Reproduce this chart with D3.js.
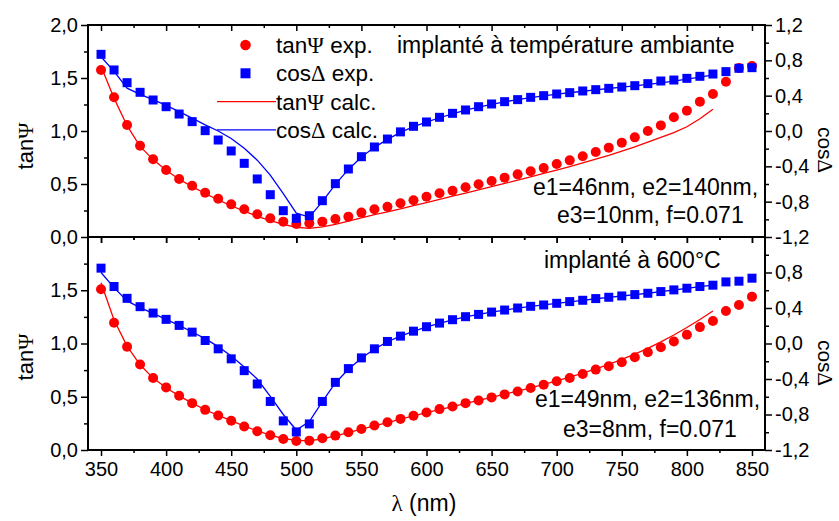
<!DOCTYPE html>
<html><head><meta charset="utf-8">
<script src="https://cdn.jsdelivr.net/npm/d3@7"></script>
<style>
html,body{margin:0;padding:0;background:#fff;}
svg{display:block;font-family:"Liberation Sans",Arial,sans-serif;}
</style></head>
<body>
<svg id="chart" width="839" height="521"></svg>
<script>
// ---- data ----
const lambdaExp = [350,360,370,380,390,400,410,420,430,440,450,460,470,480,490,500,510,520,530,540,550,560,570,580,590,600,610,620,630,640,650,660,670,680,690,700,710,720,730,740,750,760,770,780,790,800,810,820,830,840,850];
const lambdaCalc = [350,360,370,380,390,400,410,420,430,440,450,460,470,480,490,500,510,520,530,540,550,560,570,580,590,600,610,620,630,640,650,660,670,680,690,700,710,720,730,740,750,760,770,780,790,800,810,820];

const tanPsiExpTop = [1.575,1.318,1.057,0.861,0.733,0.632,0.547,0.484,0.418,0.361,0.308,0.261,0.214,0.176,0.145,0.123,0.129,0.145,0.170,0.192,0.230,0.261,0.286,0.318,0.346,0.380,0.412,0.437,0.469,0.497,0.528,0.560,0.591,0.620,0.651,0.689,0.723,0.761,0.802,0.843,0.890,0.940,1.000,1.053,1.129,1.192,1.277,1.349,1.465,1.594,1.613];
const cosDeltaExpTop = [0.868,0.691,0.547,0.438,0.351,0.275,0.192,0.106,0.004,-0.102,-0.226,-0.366,-0.543,-0.721,-0.902,-0.989,-0.959,-0.789,-0.596,-0.430,-0.291,-0.181,-0.091,-0.010,0.053,0.102,0.155,0.200,0.238,0.275,0.306,0.332,0.355,0.381,0.400,0.419,0.434,0.453,0.468,0.483,0.498,0.513,0.536,0.566,0.577,0.596,0.619,0.645,0.672,0.710,0.717];
const tanPsiCalcTop = [1.61,1.31,1.05,0.855,0.73,0.63,0.545,0.475,0.41,0.35,0.295,0.245,0.195,0.155,0.118,0.092,0.082,0.095,0.12,0.15,0.18,0.21,0.237,0.265,0.295,0.325,0.355,0.385,0.415,0.445,0.475,0.505,0.537,0.568,0.60,0.632,0.665,0.70,0.735,0.77,0.81,0.85,0.895,0.94,0.985,1.04,1.115,1.205];
const cosDeltaCalcTop = [0.84,0.675,0.485,0.415,0.355,0.29,0.22,0.145,0.07,0.0,-0.085,-0.195,-0.33,-0.50,-0.71,-0.93,-0.975,-0.80,-0.605,-0.435,-0.295,-0.185,-0.095,-0.015,0.05,0.10,0.15,0.195,0.235,0.27,0.302,0.33,0.355,0.378,0.398,0.417,0.433,0.45,0.466,0.481,0.496,0.511,0.527,0.545,0.565,0.587,0.61,0.635];

const tanPsiExpBot = [1.509,1.195,0.969,0.802,0.676,0.588,0.509,0.440,0.377,0.324,0.274,0.220,0.176,0.138,0.104,0.085,0.088,0.110,0.135,0.167,0.198,0.230,0.261,0.292,0.322,0.352,0.384,0.409,0.440,0.465,0.494,0.522,0.550,0.582,0.613,0.645,0.676,0.714,0.755,0.786,0.824,0.871,0.918,0.965,1.019,1.082,1.154,1.211,1.305,1.362,1.440];
const cosDeltaExpBot = [0.849,0.642,0.509,0.415,0.343,0.272,0.204,0.128,0.034,-0.060,-0.173,-0.306,-0.456,-0.653,-0.872,-0.996,-0.906,-0.653,-0.438,-0.283,-0.162,-0.060,0.023,0.083,0.139,0.189,0.230,0.268,0.302,0.328,0.354,0.377,0.400,0.419,0.434,0.453,0.472,0.487,0.506,0.521,0.536,0.551,0.566,0.585,0.604,0.623,0.642,0.657,0.694,0.702,0.736];
const tanPsiCalcBot = [1.57,1.22,0.975,0.80,0.675,0.585,0.508,0.44,0.378,0.325,0.275,0.225,0.18,0.14,0.108,0.09,0.087,0.105,0.132,0.163,0.195,0.227,0.258,0.29,0.32,0.35,0.38,0.408,0.438,0.466,0.495,0.524,0.553,0.584,0.617,0.65,0.685,0.722,0.762,0.805,0.85,0.90,0.955,1.015,1.08,1.15,1.225,1.305];
const cosDeltaCalcBot = [0.80,0.63,0.48,0.405,0.34,0.272,0.204,0.13,0.055,-0.035,-0.14,-0.265,-0.40,-0.595,-0.80,-0.975,-0.88,-0.655,-0.445,-0.29,-0.165,-0.063,0.02,0.082,0.137,0.187,0.228,0.266,0.30,0.327,0.353,0.376,0.398,0.418,0.435,0.452,0.47,0.486,0.504,0.52,0.535,0.55,0.566,0.584,0.603,0.622,0.641,0.658];

const xTicks = [350,400,450,500,550,600,650,700,750,800,850];
const xMinor = [375,425,475,525,575,625,675,725,775,825];
const leftTicksTop = [0,0.5,1.0,1.5,2.0];
const leftTicksBot = [0,0.5,1.0,1.5];
const leftMinor = [0.25,0.75,1.25,1.75];
const rightTicksTop = [-1.2,-0.8,-0.4,0.0,0.4,0.8,1.2];
const rightTicksBot = [-1.2,-0.8,-0.4,0.0,0.4,0.8];
const rightMinor = [-1.0,-0.6,-0.2,0.2,0.6,1.0];
const notesTop = {title:"implanté à température ambiante", p1:"e1=46nm, e2=140nm,", p2:"e3=10nm, f=0.071"};
const notesBot = {title:"implanté à 600°C", p1:"e1=49nm, e2=136nm,", p2:"e3=8nm, f=0.071"};

// ---- layout ----
const RED = "#ff0000", BLUE = "#0000ff";
const L = 88, R = 765;
const FS_TICK = 20, FS_TEXT = 23;
const svg = d3.select("#chart");
const x = d3.scaleLinear().domain([340,860]).range([L,R]);
const fmt = v => d3.format(".1f")(v).replace(".", ",").replace("−","-");

const panels = [
  {y0:25, y1:237, tanE:tanPsiExpTop, cosE:cosDeltaExpTop, tanC:tanPsiCalcTop, cosC:cosDeltaCalcTop,
   lt:leftTicksTop, rt:rightTicksTop, notes:notesTop,
   titleY:53, noteX:397, p1:{x:533,y:195}, p2:{x:557,y:223}, tanTitleY:146, cosTitleY:150},
  {y0:237, y1:450, tanE:tanPsiExpBot, cosE:cosDeltaExpBot, tanC:tanPsiCalcBot, cosC:cosDeltaCalcBot,
   lt:leftTicksBot, rt:rightTicksBot, notes:notesBot,
   titleY:268, noteX:544, p1:{x:535,y:407}, p2:{x:563,y:437}, tanTitleY:357, cosTitleY:363}
];

panels.forEach((p, i) => {
  const yL = d3.scaleLinear().domain([0,2]).range([p.y1,p.y0]);
  const yR = d3.scaleLinear().domain([-1.2,1.2]).range([p.y1,p.y0]);
  const g = svg.append("g");

  const la = g.append("g").attr("transform",`translate(${L},0)`)
    .call(d3.axisLeft(yL).tickValues(p.lt).tickSize(7).tickPadding(3).tickFormat(fmt));
  const lm = g.append("g").attr("transform",`translate(${L},0)`)
    .call(d3.axisLeft(yL).tickValues(leftMinor).tickSize(4).tickFormat(""));
  const ra = g.append("g").attr("transform",`translate(${R},0)`)
    .call(d3.axisRight(yR).tickValues(p.rt).tickSize(7).tickPadding(3).tickFormat(fmt));
  const rm = g.append("g").attr("transform",`translate(${R},0)`)
    .call(d3.axisRight(yR).tickValues(rightMinor).tickSize(4).tickFormat(""));
  const tx = g.append("g").attr("transform",`translate(0,${p.y0})`)
    .call(d3.axisBottom(x).tickValues(xTicks).tickSize(6).tickFormat(""));
  const txm = g.append("g").attr("transform",`translate(0,${p.y0})`)
    .call(d3.axisBottom(x).tickValues(xMinor).tickSize(3).tickFormat(""));
  const bx = g.append("g").attr("transform",`translate(0,${p.y1})`)
    .call(d3.axisBottom(x).tickValues(xTicks).tickSize(6).tickPadding(6)
      .tickFormat(i === 1 ? d3.format("d") : ""));
  const bxm = g.append("g").attr("transform",`translate(0,${p.y1})`)
    .call(d3.axisBottom(x).tickValues(xMinor).tickSize(3).tickFormat(""));
  [la,lm,ra,rm,tx,txm,bx,bxm].forEach(a => {
    a.select(".domain").remove();
    a.selectAll("line").attr("stroke","#000").attr("stroke-width",1.5);
    a.selectAll("text").attr("font-size",FS_TICK).attr("font-family","Liberation Sans, Arial, sans-serif").attr("fill","#000");
  });

  g.append("rect").attr("x",L).attr("y",p.y0).attr("width",R-L).attr("height",p.y1-p.y0)
    .attr("fill","none").attr("stroke","#000").attr("stroke-width",2);

  const lineL = d3.line().x((d,j)=>x(lambdaCalc[j])).y(d=>yL(d));
  const lineR = d3.line().x((d,j)=>x(lambdaCalc[j])).y(d=>yR(d));
  g.append("path").datum(p.tanC).attr("d",lineL).attr("fill","none").attr("stroke",RED).attr("stroke-width",1.3);
  g.append("path").datum(p.cosC).attr("d",lineR).attr("fill","none").attr("stroke",BLUE).attr("stroke-width",1.3);

  g.selectAll(".c"+i).data(p.tanE).enter().append("circle")
    .attr("cx",(d,j)=>x(lambdaExp[j])).attr("cy",d=>yL(d)).attr("r",5).attr("fill",RED);
  g.selectAll(".s"+i).data(p.cosE).enter().append("rect")
    .attr("x",(d,j)=>x(lambdaExp[j])-4.5).attr("y",d=>yR(d)-4.5).attr("width",9).attr("height",9).attr("fill",BLUE);

  const tt = g.append("text").attr("transform",`translate(33,${p.tanTitleY}) rotate(-90)`)
    .attr("text-anchor","middle").attr("font-size",22);
  tt.append("tspan").text("tan");
  tt.append("tspan").attr("font-family","Liberation Serif, serif").text("Ψ");
  const ct = g.append("text").attr("transform",`translate(818,${p.cosTitleY}) rotate(90)`)
    .attr("text-anchor","middle").attr("font-size",21);
  ct.append("tspan").text("cos");
  ct.append("tspan").attr("font-family","Liberation Serif, serif").text("Δ");

  g.append("text").attr("x",p.noteX).attr("y",p.titleY).attr("font-size",FS_TEXT).text(p.notes.title);
  g.append("text").attr("x",p.p1.x).attr("y",p.p1.y).attr("font-size",FS_TEXT).text(p.notes.p1);
  g.append("text").attr("x",p.p2.x).attr("y",p.p2.y).attr("font-size",FS_TEXT).text(p.notes.p2);
});

const xt = svg.append("text").attr("x",424).attr("y",511).attr("text-anchor","middle").attr("font-size",23);
xt.append("tspan").attr("font-family","Liberation Serif, serif").text("λ");
xt.append("tspan").text(" (nm)");

const legend = svg.append("g");
const lg = [
  {type:"circle", label:["tan","Ψ"," exp."]},
  {type:"square", label:["cos","Δ"," exp."]},
  {type:"lineR", label:["tan","Ψ"," calc."]},
  {type:"lineB", label:["cos","Δ"," calc."]}
];
lg.forEach((d,k) => {
  const cy = 45 + 28.3*k;
  if (d.type==="circle") legend.append("circle").attr("cx",245.5).attr("cy",cy).attr("r",5.3).attr("fill",RED);
  if (d.type==="square") legend.append("rect").attr("x",240.5).attr("y",cy-5).attr("width",10).attr("height",10).attr("fill",BLUE);
  if (d.type==="lineR") legend.append("line").attr("x1",217).attr("x2",276).attr("y1",cy).attr("y2",cy).attr("stroke",RED).attr("stroke-width",1.3);
  if (d.type==="lineB") legend.append("line").attr("x1",217).attr("x2",276).attr("y1",cy).attr("y2",cy).attr("stroke",BLUE).attr("stroke-width",1.3);
  const t = legend.append("text").attr("x",276).attr("y",cy+8).attr("font-size",22.5);
  t.append("tspan").text(d.label[0]);
  t.append("tspan").attr("font-family","Liberation Serif, serif").text(d.label[1]);
  t.append("tspan").text(d.label[2]);
});
</script>
</body></html>
